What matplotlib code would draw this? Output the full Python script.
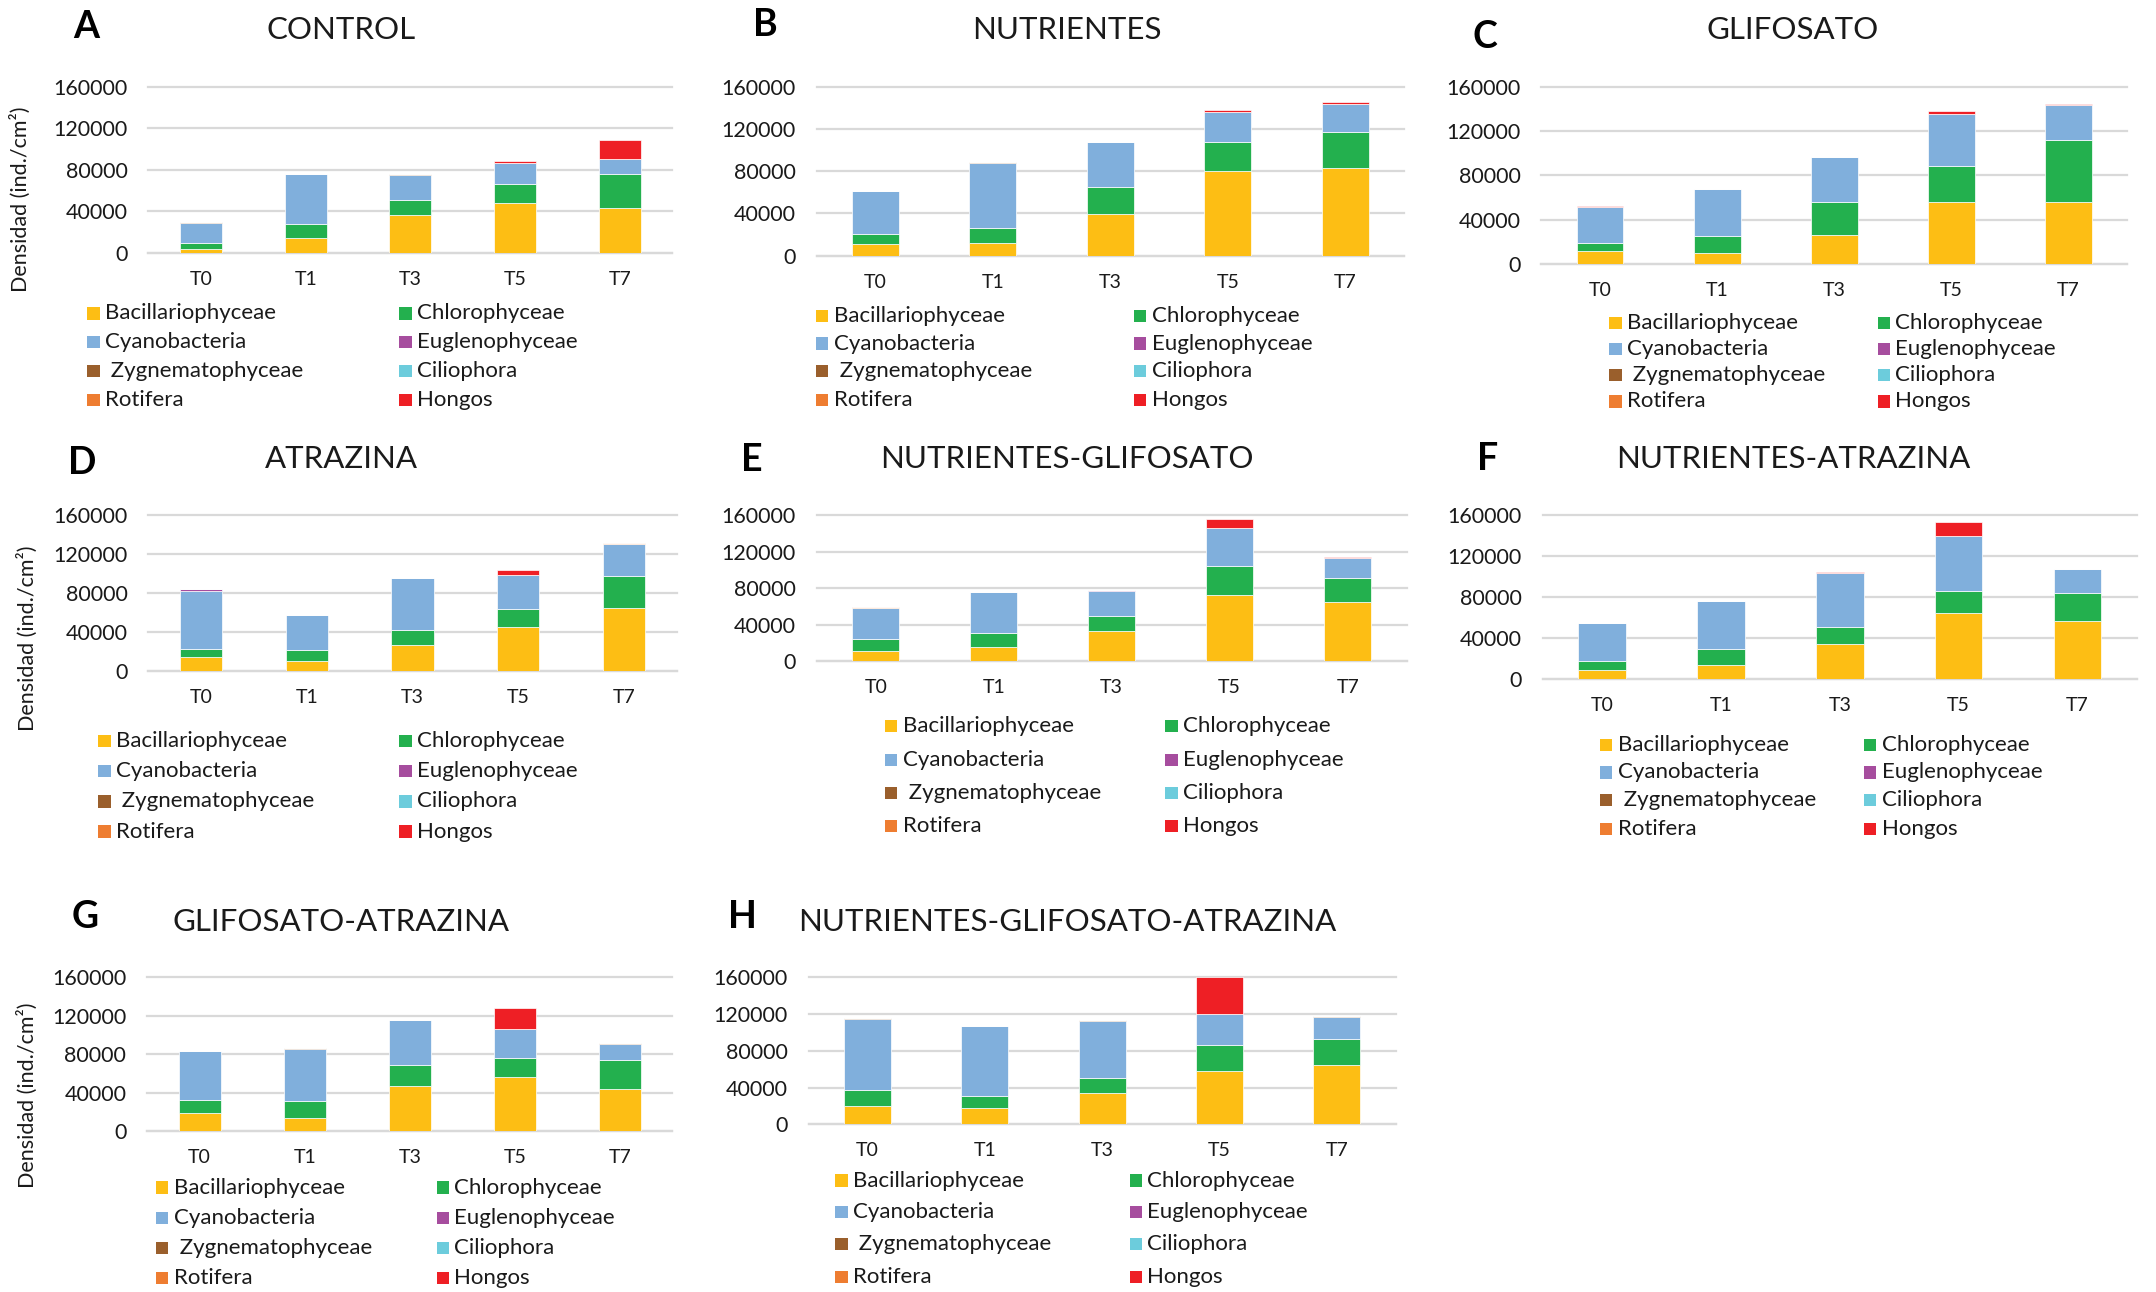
import matplotlib
matplotlib.use('Agg')
import matplotlib.pyplot as plt
from matplotlib.patches import Rectangle
import numpy as np

plt.rcParams['font.family'] = ['Lato', 'DejaVu Sans']

# ---------------- data ----------------
categories = ['T0', 'T1', 'T3', 'T5', 'T7']
panel_titles = ['CONTROL', 'NUTRIENTES', 'GLIFOSATO', 'ATRAZINA',
                'NUTRIENTES-GLIFOSATO', 'NUTRIENTES-ATRAZINA',
                'GLIFOSATO-ATRAZINA', 'NUTRIENTES-GLIFOSATO-ATRAZINA']
panel_letters = ['A', 'B', 'C', 'D', 'E', 'F', 'G', 'H']
series_names = ['Bacillariophyceae', 'Chlorophyceae', 'Cyanobacteria', 'Euglenophyceae',
                ' Zygnematophyceae', 'Ciliophora', 'Rotifera', 'Hongos']
series_colors = ['#FDBE14', '#23B04E', '#80AFDC', '#A64D9E',
                 '#9A5F2C', '#6CCCDC', '#EE7D31', '#EE1F25']

# rows = panels A..H, columns = T0, T1, T3, T5, T7 (ind./cm2)
bacillariophyceae = [
    [3500, 14200, 36000, 48000, 42800],
    [11400, 11700, 39600, 79800, 83300],
    [11500, 9400, 25700, 56200, 56200],
    [14400, 9600, 26700, 45100, 65000],
    [11000, 15800, 32700, 72300, 65000],
    [9100, 13400, 34500, 64800, 56700],
    [19100, 13600, 47300, 56300, 43800],
    [20300, 18100, 34400, 57900, 64100],
]
chlorophyceae = [
    [5800, 13500, 14500, 18300, 32900],
    [9500, 14300, 25300, 27600, 33300],
    [7800, 15400, 30500, 32000, 55500],
    [8500, 11900, 15400, 18800, 32400],
    [12900, 15400, 16800, 31900, 26000],
    [8800, 15900, 16000, 20900, 27700],
    [12900, 17700, 21600, 19900, 30300],
    [17000, 13000, 15900, 28300, 28900],
]
cyanobacteria = [
    [19700, 48600, 24800, 20300, 14800],
    [39900, 62100, 42200, 28500, 26900],
    [31700, 42800, 40100, 46700, 31400],
    [59500, 35600, 53300, 35200, 32900],
    [34400, 45100, 27900, 41900, 22400],
    [36800, 47300, 52800, 54400, 22800],
    [51500, 54300, 46200, 29500, 17000],
    [77800, 76400, 61900, 34300, 23600],
]
euglenophyceae = [
    [0, 0, 0, 0, 0],
    [0, 0, 0, 0, 0],
    [0, 0, 0, 0, 0],
    [1400, 0, 0, 0, 0],
    [0, 0, 1000, 0, 0],
    [0, 0, 0, 0, 0],
    [0, 0, 0, 0, 0],
    [0, 0, 0, 0, 0],
]
zygnematophyceae = [
    [300, 0, 300, 0, 0],
    [0, 600, 300, 0, 0],
    [0, 0, 0, 0, 0],
    [0, 0, 0, 0, 0],
    [0, 0, 0, 0, 0],
    [0, 0, 0, 0, 0],
    [0, 700, 700, 0, 700],
    [700, 0, 1100, 0, 1000],
]
ciliophora = [
    [0, 0, 0, 0, 0],
    [0, 0, 0, 0, 0],
    [0, 0, 0, 0, 0],
    [0, 0, 0, 0, 0],
    [0, 0, 0, 0, 0],
    [0, 0, 0, 0, 0],
    [0, 0, 0, 0, 0],
    [0, 0, 0, 0, 0],
]
rotifera = [
    [0, 0, 0, 0, 0],
    [0, 0, 0, 0, 0],
    [0, 0, 0, 0, 0],
    [0, 0, 0, 0, 1000],
    [800, 0, 0, 0, 0],
    [0, 0, 0, 0, 0],
    [0, 0, 0, 0, 0],
    [0, 0, 0, 0, 0],
]
hongos = [
    [0, 0, 0, 1600, 17700],
    [0, 0, 0, 1900, 1600],
    [900, 0, 0, 3400, 1200],
    [0, 0, 0, 4800, 0],
    [0, 0, 0, 9500, 700],
    [0, 0, 1600, 13100, 700],
    [0, 0, 0, 22300, 0],
    [0, 0, 0, 39500, 0],
]
yticks = [0, 40000, 80000, 120000, 160000]

all_series = [bacillariophyceae, chlorophyceae, cyanobacteria, euglenophyceae,
              zygnematophyceae, ciliophora, rotifera, hongos]

# ---------------- layout (reference grid 1568 x 940) ----------------
RW, RH = 1568.0, 940.0
def fx(x): return x / RW
def fy(y): return 1 - y / RH

# x0, x1, y_top(160000), y_bottom(0)
axes_box = [
    (108, 489, 63, 184),
    (594, 1021, 63, 186),
    (1121, 1547, 63, 192),
    (108, 492, 375, 488),
    (594, 1023, 375, 481),
    (1122, 1554, 375, 494),
    (107, 489, 711, 823),
    (588, 1015, 711, 818),
]
title_pos = [(248, 22), (776, 22), (1304, 22), (248, 334), (776, 334), (1304, 334),
             (248, 671), (776, 671)]
letter_pos = [(63, 20), (557, 18), (1080, 27), (60, 337), (547, 335), (1082, 334),
              (62, 667), (540, 667)]
legend_rows = [(228, 249, 270, 291), (230, 250, 270, 291), (235, 254, 273, 292),
               (539, 561, 583, 605), (528, 553, 577, 601), (542, 562, 582, 603),
               (864, 886, 908, 930), (859, 882, 905, 929)]
legend_cols = [(68, 295), (598, 829), (1175, 1370), (76, 295), (648, 852), (1168, 1360),
               (118, 322), (612, 826)]
ylabel_pos = {0: (15, 145), 3: (20, 464), 6: (20, 797)}

fig = plt.figure(figsize=(21.56, 12.92), dpi=100)
grid_color = '#D9D9D9'
text_color = '#1a1a1a'

for p in range(8):
    x0, x1, yt, yb = axes_box[p]
    ax = fig.add_axes([fx(x0), fy(yb), (x1 - x0) / RW, (yb - yt) / RH])
    x = np.arange(len(categories))
    bottom = np.zeros(len(categories))
    for s, vals in enumerate(all_series):
        v = np.array(vals[p], dtype=float)
        ax.bar(x, v, width=0.4, bottom=bottom, color=series_colors[s],
               edgecolor='white', linewidth=0.5, zorder=3)
        bottom += v
    ax.set_xlim(-0.5, 4.5)
    ax.set_ylim(0, 160000)
    ax.set_yticks(yticks)
    ax.set_yticklabels([str(t) for t in yticks])
    ax.set_xticks(x)
    ax.set_xticklabels(categories)
    ax.yaxis.grid(True, color=grid_color, linewidth=1.6, zorder=0)
    ax.set_axisbelow(True)
    for sp in ['top', 'right', 'left']:
        ax.spines[sp].set_visible(False)
    ax.spines['bottom'].set_color(grid_color)
    ax.spines['bottom'].set_linewidth(1.6)
    ax.tick_params(axis='y', length=0, labelsize=15.5, pad=15, colors=text_color)
    ax.tick_params(axis='x', length=0, labelsize=14, pad=13, colors=text_color)
    for gl in ax.get_ygridlines():
        gl.set_clip_on(False)

    tx, ty = title_pos[p]
    fig.text(fx(tx), fy(ty), panel_titles[p], ha='center', va='center',
             fontsize=22.5, color=text_color)
    lx, ly = letter_pos[p]
    fig.text(fx(lx), fy(ly), panel_letters[p], ha='center', va='center',
             fontsize=27, fontweight='bold', color='black')
    if p in ylabel_pos:
        yx, yy = ylabel_pos[p]
        fig.text(fx(yx), fy(yy), 'Densidad (ind./cm²)', rotation=90,
                 ha='center', va='center', fontsize=15.5, color=text_color)

    # legend (two columns, row-wise order)
    msz = 9.0
    for s, name in enumerate(series_names):
        r, c = s // 2, s % 2
        mx = legend_cols[p][c]
        my = legend_rows[p][r]
        fig.patches.append(Rectangle((fx(mx - msz / 2), fy(my + msz / 2)),
                                     msz / RW, msz / RH, transform=fig.transFigure,
                                     facecolor=series_colors[s], edgecolor='none'))
        fig.text(fx(mx + msz / 2 + 4), fy(my), name, ha='left', va='center',
                 fontsize=16, color=text_color)

fig.savefig('out.png', dpi=100, facecolor='white')
